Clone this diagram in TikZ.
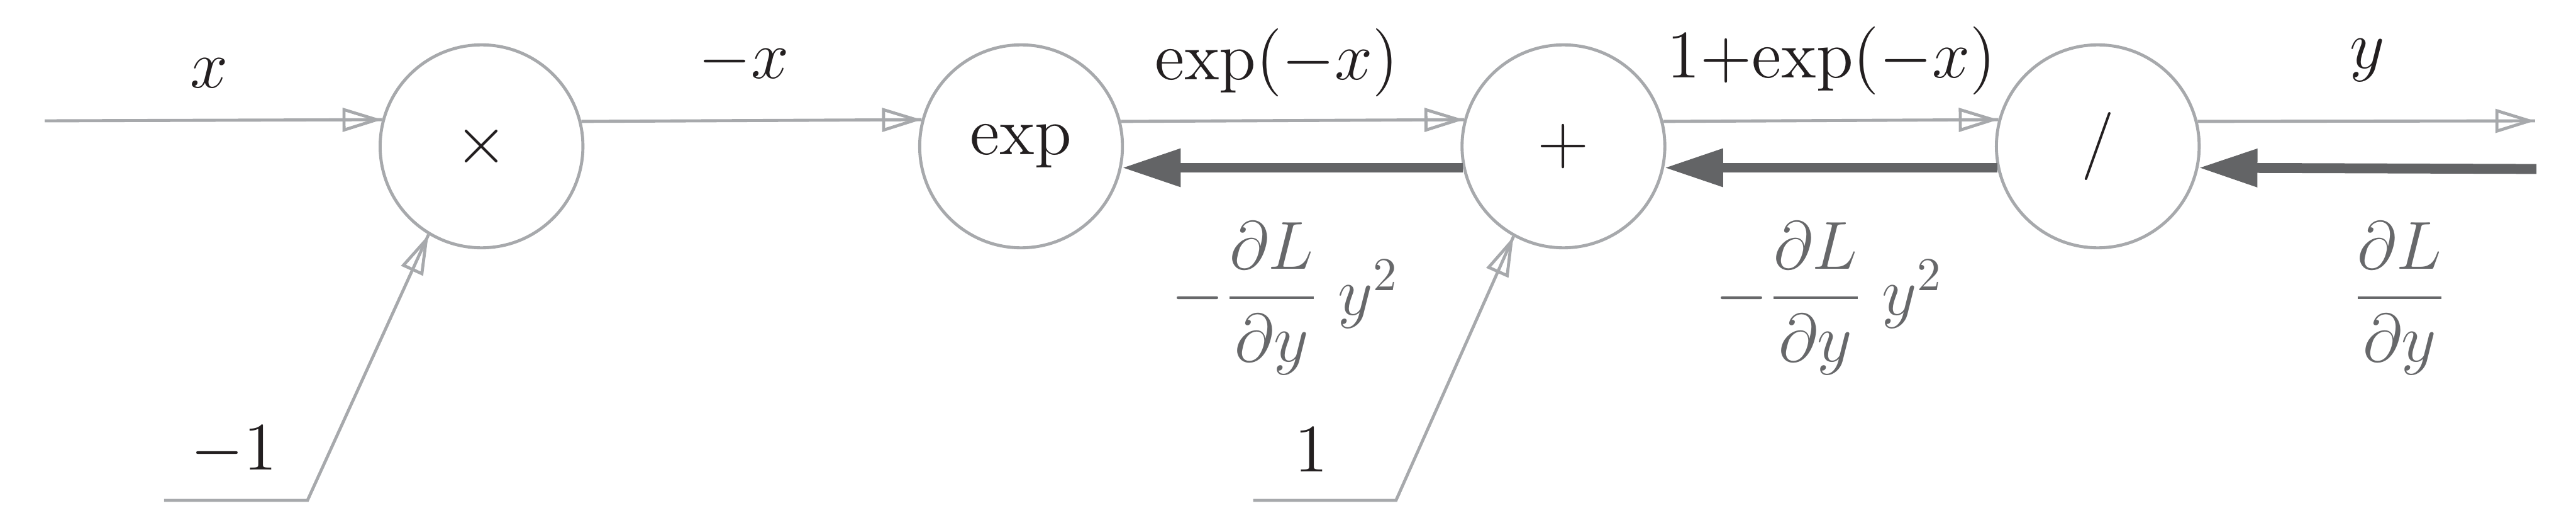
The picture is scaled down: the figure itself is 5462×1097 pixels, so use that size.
\documentclass[tikz,border=0pt]{standalone}
\usepackage{amsmath}
\usetikzlibrary{arrows.meta,decorations.markings}
\definecolor{lgray}{RGB}{167,169,172}
\definecolor{dgray}{RGB}{99,100,102}
\definecolor{tgray}{RGB}{103,104,106}
\definecolor{tblack}{RGB}{35,31,32}
\tikzset{
  fwd/.style={draw=lgray, line width=0.65pt, postaction={decorate},
    decoration={markings, mark=at position 1 with {\arrow[lgray, line width=0.65pt]{Triangle[open,length=8.4pt,width=5pt]}}}},
  bwd/.style={draw=dgray, line width=2.1pt, -{Triangle[length=12.5pt,width=7.6pt]}},
  opnode/.style={circle, draw=lgray, line width=0.65pt, minimum size=43pt, inner sep=0pt, text=tblack, font=\Large},
  lbl/.style={anchor=base, inner sep=0pt, text=tblack, font=\Large},
  glbl/.style={anchor=base, inner sep=0pt, text=tgray, font=\Large},
}
\begin{document}
\begin{tikzpicture}[x=0.1pt,y=-0.1pt]
\useasboundingbox (0,0) rectangle (5462,1097);
% operation nodes
\node[opnode] (mul) at (1021,310) {$\times$};
\node[opnode] (exp) at (2165,310) {$\exp$};
\node[opnode] (plus) at (3315,310) {$+$};
\node[opnode] (div) at (4448,310) {$/$};
% free ends
\coordinate (xin) at (95,256);
\coordinate (yout) at (5375,256);
\coordinate (gin) at (5378,358);
\coordinate (m1a) at (348,1060);
\coordinate (m1b) at (652,1060);
\coordinate (p1a) at (2657,1060);
\coordinate (p1b) at (2960,1060);
% forward connectors
\draw[fwd] (xin) -- (mul.165.5);
\draw[fwd] (mul.14.5) -- (exp.165.5);
\draw[fwd] (exp.14.5) -- (plus.165.5);
\draw[fwd] (plus.14.5) -- (div.165.5);
\draw[fwd] (div.14.5) -- (yout);
\draw[fwd] (m1a) -- (m1b) -- (mul.239);
\draw[fwd] (p1a) -- (p1b) -- (plus.241);
% backward connectors
\draw[bwd] (gin) -- (div.-12.9);
\draw[bwd] (div.192.9) -- (plus.-12.9);
\draw[bwd] (plus.192.9) -- (exp.-12.9);
% forward labels
\node[lbl] (lx) at (443,186) {$x$};
\node[lbl] (lmx) at (1577,166) {$-x$};
\node[lbl] (lexp) at (2707,169) {$\exp(-x)$};
\node[lbl] (lone) at (3883,165) {$1{+}\mathrm{exp}(-x)$};
\node[lbl] (ly) at (5020,145) {$y$};
\node[lbl] (lm1) at (496,995) {$-1$};
\node[lbl] (l1) at (2780,1000) {$1$};
% backward labels
\node[glbl] (g1) at (2725,667) {$-\dfrac{\partial L}{\partial y}\;y^2$};
\node[glbl] (g2) at (3878,667) {$-\dfrac{\partial L}{\partial y}\;y^2$};
\node[glbl] (g3) at (5088,667) {$\dfrac{\partial L}{\partial y}$};
\end{tikzpicture}
\end{document}
